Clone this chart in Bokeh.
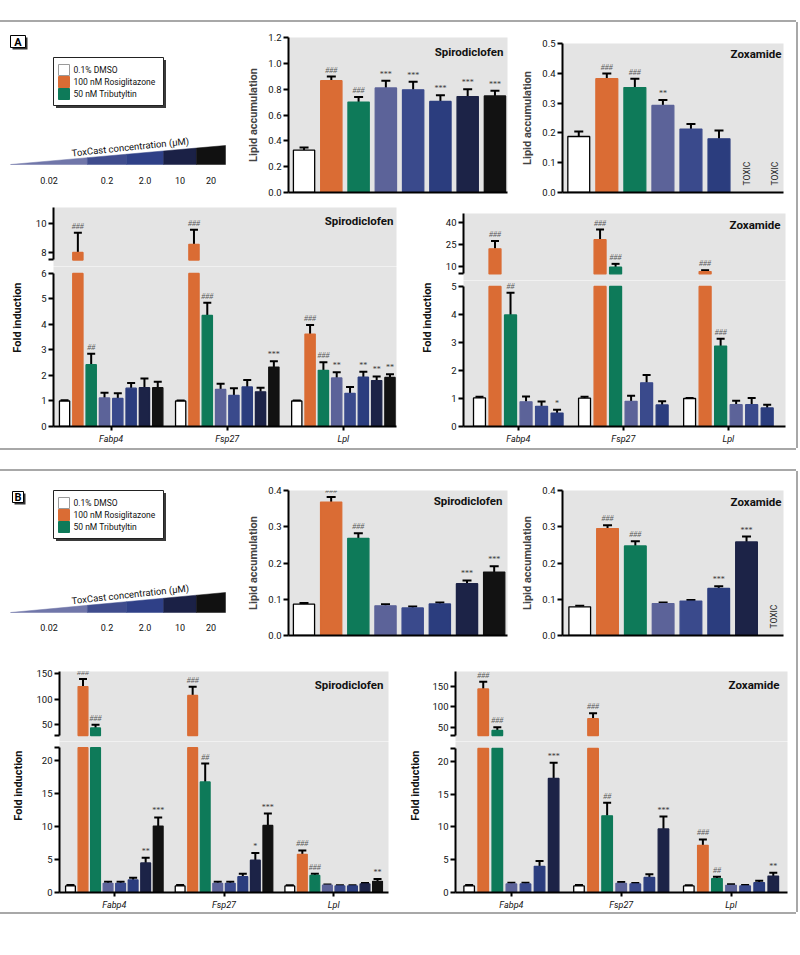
import math
from bokeh.plotting import figure
from bokeh.layouts import row, column
from bokeh.models import (Range1d, FixedTicker, NumeralTickFormatter, Whisker, TeeHead,
                          ColumnDataSource, Label, LabelSet, Spacer)
from bokeh.embed import file_html
from bokeh.resources import INLINE
from bokeh.core.properties import value

# ------------------------------------------------------------------ data
conditions = ["0.1% DMSO", "100 nM Rosiglitazone", "50 nM Tributyltin",
              "0.02 µM", "0.2 µM", "2.0 µM", "10 µM", "20 µM"]
conc_labels = ["0.02", "0.2", "2.0", "10", "20"]
genes = ["Fabp4", "Fsp27", "Lpl"]

# (A) lipid accumulation
lipA_spiro = [0.328, 0.865, 0.700, 0.810, 0.795, 0.705, 0.743, 0.748]
lipA_spiro_sem = [0.020, 0.033, 0.040, 0.055, 0.062, 0.048, 0.057, 0.039]
lipA_spiro_sig = ["", "###", "###", "***", "***", "***", "***", "***"]
lipA_zox = [0.188, 0.382, 0.352, 0.292, 0.213, 0.180, None, None]
lipA_zox_sem = [0.017, 0.017, 0.030, 0.018, 0.017, 0.028, None, None]
lipA_zox_sig = ["", "###", "###", "**", "", "", "", ""]

# (B) lipid accumulation
lipB_spiro = [0.0864, 0.368, 0.268, 0.082, 0.076, 0.087, 0.143, 0.175]
lipB_spiro_sem = [0.0036, 0.014, 0.014, 0.0044, 0.004, 0.004, 0.009, 0.016]
lipB_spiro_sig = ["", "###", "###", "", "", "", "***", "***"]
lipB_zox = [0.079, 0.295, 0.247, 0.088, 0.095, 0.130, 0.258, None]
lipB_zox_sem = [0.003, 0.009, 0.013, 0.003, 0.003, 0.006, 0.015, None]
lipB_zox_sig = ["", "###", "###", "", "", "***", "***", ""]

# (A) fold induction (rows: Fabp4, Fsp27, Lpl)
foldA_spiro = [[1.00, 8.00, 2.42, 1.12, 1.10, 1.50, 1.52, 1.52],
               [1.00, 8.56, 4.35, 1.45, 1.22, 1.55, 1.36, 2.33],
               [1.00, 3.62, 2.20, 1.90, 1.30, 1.93, 1.80, 1.92]]
foldA_spiro_sem = [[0.03, 1.35, 0.43, 0.20, 0.20, 0.20, 0.36, 0.23],
                   [0.02, 1.00, 0.50, 0.23, 0.28, 0.27, 0.16, 0.23],
                   [0.02, 0.36, 0.32, 0.23, 0.25, 0.22, 0.16, 0.13]]
foldA_spiro_sig = [["", "###", "##", "", "", "", "", ""],
                   ["", "###", "###", "", "", "", "", "***"],
                   ["", "###", "###", "**", "", "**", "**", "**"]]

foldA_zox = [[1.02, 22.0, 3.98, 0.88, 0.72, 0.48],
             [1.01, 28.2, 9.5, 0.90, 1.56, 0.77],
             [1.00, 6.6, 2.87, 0.78, 0.78, 0.66]]
foldA_zox_sem = [[0.04, 5.3, 0.79, 0.19, 0.17, 0.12],
                 [0.05, 6.8, 2.3, 0.20, 0.28, 0.13],
                 [0.02, 0.9, 0.26, 0.14, 0.24, 0.12]]
foldA_zox_sig = [["", "###", "##", "", "", "*"],
                 ["", "###", "###", "", "", ""],
                 ["", "###", "###", "", "", ""]]

# (B) fold induction
foldB_spiro = [[1.0, 125, 44, 1.4, 1.4, 1.9, 4.5, 10.1],
               [1.0, 107.5, 16.8, 1.4, 1.4, 2.4, 4.9, 10.2],
               [1.0, 5.8, 2.6, 1.1, 1.0, 1.0, 1.3, 1.7]]
foldB_spiro_sem = [[0.15, 15, 6, 0.25, 0.25, 0.35, 0.8, 1.3],
                   [0.15, 17, 2.8, 0.25, 0.25, 0.45, 1.1, 1.8],
                   [0.1, 0.6, 0.25, 0.1, 0.1, 0.1, 0.15, 0.35]]
foldB_spiro_sig = [["", "###", "###", "", "", "", "**", "***"],
                   ["", "###", "##", "", "", "", "*", "***"],
                   ["", "###", "###", "", "", "", "", "**"]]

foldB_zox = [[1.0, 144, 42, 1.3, 1.3, 4.0, 17.4],
             [1.0, 71, 11.7, 1.4, 1.3, 2.3, 9.7],
             [1.0, 7.2, 2.1, 1.1, 1.0, 1.5, 2.5]]
foldB_zox_sem = [[0.15, 18, 8, 0.2, 0.2, 0.8, 2.4],
                 [0.15, 13, 2.0, 0.2, 0.15, 0.5, 1.9],
                 [0.1, 0.9, 0.3, 0.15, 0.15, 0.3, 0.5]]
foldB_zox_sig = [["", "###", "###", "", "", "", "***"],
                 ["", "###", "##", "", "", "", "***"],
                 ["", "###", "##", "", "", "", "**"]]

# ------------------------------------------------------------------ style
FONT = "Roboto"
BG = "#E4E4E4"
BAR_FILL = ["#FFFFFF", "#DA6C34", "#0E7A59", "#5C6399", "#3A4A8C", "#2B3D7E", "#1C2347", "#121212"]
BAR_LINE = ["#000000"] + BAR_FILL[1:]
GRAD_FILL = ["#7076A9", "#3F4C8D", "#2F4087", "#1B2146", "#111111"]
GRAD_EDGES = [0, 0.358, 0.540, 0.712, 0.865, 1.0]
BOX_STYLE = {"box-shadow": "0 -2px 0 0 #a8a8a8, 2px 0 0 0 #a8a8a8, 0 2px 0 0 #a8a8a8"}


def make_fig(w, h, xr, yr, mb, xaxis=True, yaxis=True, bg=BG):
    p = figure(width=w, height=h, x_range=xr, y_range=yr, output_backend="svg",
               toolbar_location=None, tools="",
               min_border_left=mb[0], min_border_right=mb[1],
               min_border_top=mb[2], min_border_bottom=mb[3],
               background_fill_color=bg, border_fill_color="white",
               outline_line_color=None,
               x_axis_location="below" if xaxis else None,
               y_axis_location="left" if yaxis else None)
    p.xgrid.visible = False
    p.ygrid.visible = False
    return p


def style_axis(ax):
    ax.axis_line_width = 2
    ax.axis_line_color = "black"
    ax.major_tick_line_width = 2
    ax.major_tick_line_color = "black"
    ax.major_tick_out = 5
    ax.major_tick_in = 0
    ax.minor_tick_line_color = None
    ax.major_label_text_font = FONT
    ax.major_label_text_font_size = "9.5px"
    ax.major_label_text_color = "#111111"
    ax.major_label_standoff = 2


def add_title(p, text, off, xend, yend, size="11.5px"):
    p.add_layout(Label(x=xend, y=yend, x_offset=off[0], y_offset=off[1], text=text,
                       text_align="right", text_baseline="top", text_font=FONT,
                       text_font_style="bold", text_font_size=size, text_color="#111111"))


def sig_style(sigs):
    return (["italic" if s.startswith("#") else "normal" for s in sigs],
            ["#555555" if s.startswith("#") else "#333333" for s in sigs])


def add_bars(p, src, bw):
    p.vbar(x="x", top="top", bottom="bottom", width=bw, fill_color="fill",
           line_color="line", line_width=1.3, source=src)


def add_err(p, src, tee=8):
    p.add_layout(Whisker(source=src, base="x", upper="up", lower="v",
                         upper_head=TeeHead(size=tee, line_width=2, line_color="black"),
                         lower_head=None, line_width=2, line_color="black"))
    p.add_layout(LabelSet(source=src, x="x", y="up", text="sig", y_offset=2,
                          text_align="center", text_baseline="bottom", text_font=FONT,
                          text_font_size="8px", text_font_style="fstyle", text_color="tcolor"))


# ------------------------------------------------------------------ lipid charts
def lipid_chart(vals, sems, sigs, title, L):
    n = len(vals)
    idx = [i for i in range(n) if vals[i] is not None]
    fs, tc = sig_style([sigs[i] for i in idx])
    src = ColumnDataSource(dict(
        x=idx, top=[vals[i] for i in idx], v=[vals[i] for i in idx], bottom=[0] * len(idx),
        up=[vals[i] + sems[i] for i in idx],
        fill=[BAR_FILL[i] for i in idx], line=[BAR_LINE[i] for i in idx],
        sig=[sigs[i] for i in idx], fstyle=fs, tcolor=tc))
    xr = Range1d(-L["pad"][0], n - 1 + L["pad"][1])
    yr = Range1d(0, L["ymax"])
    p = make_fig(L["w"], L["h"], xr, yr, L["mb"])
    add_bars(p, src, 0.78)
    add_err(p, src, tee=9)
    tox = [i for i in range(n) if vals[i] is None]
    if tox:
        p.text(x=tox, y=[0] * len(tox), text=["TOXIC"] * len(tox), angle=math.pi / 2,
               text_align="left", text_baseline="middle", y_offset=-7,
               text_font=value(FONT), text_font_size="8.5px", text_color="#222222")
    ya = p.yaxis[0]
    style_axis(ya)
    nt = int(round(L["ymax"] / L["ystep"]))
    ya.ticker = FixedTicker(ticks=[round(k * L["ystep"], 3) for k in range(nt + 1)], minor_ticks=[])
    ya.formatter = NumeralTickFormatter(format="0.0")
    ya.axis_label = "Lipid accumulation"
    ya.axis_label_text_font = FONT
    ya.axis_label_text_font_style = "bold"
    ya.axis_label_text_font_size = "11px"
    ya.axis_label_standoff = 5
    xa = p.xaxis[0]
    style_axis(xa)
    xa.ticker = FixedTicker(ticks=[], minor_ticks=[])
    xa.major_tick_out = 0
    add_title(p, title, L["toff"], xr.end, yr.end)
    return column(p)


# ------------------------------------------------------------------ fold charts
def fold_chart(vals, sems, sigs, title, L):
    n = len(vals[0])
    gap = L["gap"]
    recs = []
    for g in range(len(genes)):
        for i in range(n):
            recs.append(dict(x=g * (n + gap) + i, v=vals[g][i], s=sems[g][i], sig=sigs[g][i], c=i))
    centers = [g * (n + gap) + (n - 1) / 2 for g in range(len(genes))]
    xr = Range1d(-L["pad"][0], recs[-1]["x"] + L["pad"][1])
    lo_cap, hi_cap = L["lo_cap"], L["hi_cap"]

    def source(rs, bottom, clip=None):
        fs, tc = sig_style([r["sig"] for r in rs])
        return ColumnDataSource(dict(
            x=[r["x"] for r in rs],
            top=[min(r["v"], clip) if clip is not None else r["v"] for r in rs],
            bottom=[bottom] * len(rs),
            v=[r["v"] for r in rs], up=[r["v"] + r["s"] for r in rs],
            fill=[BAR_FILL[r["c"]] for r in rs], line=[BAR_LINE[r["c"]] for r in rs],
            sig=[r["sig"] for r in rs], fstyle=fs, tcolor=tc))

    lo_recs = [r for r in recs if r["v"] <= lo_cap]
    hi_recs = [r for r in recs if r["v"] > lo_cap]

    # upper segment of the broken axis
    top = make_fig(L["w"], L["h_top"], xr, Range1d(L["hi"][0], L["hi"][1]),
                   (L["mbl"], L["mbr"], L["mbt"], 0), xaxis=False)
    src_hi = source(hi_recs, hi_cap)
    add_bars(top, src_hi, L["bw"])
    add_err(top, src_hi)
    ya = top.yaxis[0]
    style_axis(ya)
    ya.ticker = FixedTicker(ticks=L["hi_ticks"] + [hi_cap], minor_ticks=[])
    ya.major_label_overrides = {hi_cap: ""}
    ya.bounds = (hi_cap, L["hi"][1])
    add_title(top, title, L["toff"], xr.end, L["hi"][1])

    # lower segment
    bot = make_fig(L["w"], L["h_bot"], xr, Range1d(0, L["lo_end"]),
                   (L["mbl"], L["mbr"], 0, L["mbb"]))
    add_bars(bot, source(recs, 0, clip=lo_cap), L["bw"])
    add_err(bot, source(lo_recs, 0))
    ya = bot.yaxis[0]
    style_axis(ya)
    ticks = list(L["lo_ticks"])
    if lo_cap not in ticks:
        ticks.append(lo_cap)
        ya.major_label_overrides = {lo_cap: ""}
    ya.ticker = FixedTicker(ticks=ticks, minor_ticks=[])
    ya.bounds = (0, lo_cap)
    xa = bot.xaxis[0]
    style_axis(xa)
    xa.ticker = FixedTicker(ticks=centers, minor_ticks=[])
    xa.major_label_overrides = {c: g for c, g in zip(centers, genes)}
    xa.major_label_text_font_style = "italic"
    xa.major_label_text_font_size = "9px"
    xa.major_tick_out = 4
    xa.major_label_standoff = 3
    return column(top, bot)


def ylabel_fig(w, h, fx, fy, text="Fold induction"):
    p = make_fig(w, h, Range1d(0, 1), Range1d(0, 1), (0, 0, 0, 0), xaxis=False, yaxis=False, bg="white")
    p.add_layout(Label(x=fx, y=fy, text=text, angle=math.pi / 2, text_align="center",
                       text_baseline="middle", text_font=FONT, text_font_style="bold",
                       text_font_size="11px", text_color="#111111"))
    return column(p)


# ------------------------------------------------------------------ legend / gradient figure
def left_fig(tag, G):
    W, H = 244, G["h"]
    p = make_fig(W, H, Range1d(0, W), Range1d(H, 0), (0, 0, 0, 0), xaxis=False, yaxis=False, bg="white")
    tx, ty, tw, th = G["tag"]
    p.quad(left=[tx + 2], right=[tx + tw + 2], top=[ty + 2], bottom=[ty + th + 2],
           fill_color="#333333", line_color=None)
    p.quad(left=[tx], right=[tx + tw], top=[ty], bottom=[ty + th],
           fill_color="white", line_color="black", line_width=1)
    p.text(x=[tx + tw / 2], y=[ty + th / 2 + 0.5], text=[tag], text_align="center",
           text_baseline="middle", text_font=value(FONT), text_font_style="bold",
           text_font_size="11px", text_color="black")

    # legend box (drawn by hand: shadow, frame, swatches, labels)
    lx, ly, lw, lh = G["legend"]
    p.quad(left=[lx + 2.5], right=[lx + lw + 2.5], top=[ly + 2.5], bottom=[ly + lh + 2.5],
           fill_color="#3a3a3a", line_color=None)
    p.quad(left=[lx], right=[lx + lw], top=[ly], bottom=[ly + lh],
           fill_color="white", line_color="#222222", line_width=1)
    cy = [ly + 12.5 + 12 * i for i in range(3)]
    p.quad(left=[lx + 5] * 3, right=[lx + 16] * 3, top=[c - 5.5 for c in cy], bottom=[c + 5.5 for c in cy],
           fill_color=BAR_FILL[:3], line_color=["#9a9a9a", BAR_FILL[1], BAR_FILL[2]], line_width=1)
    p.text(x=[lx + 20] * 3, y=cy, text=conditions[:3], text_align="left", text_baseline="middle",
           text_font=value(FONT), text_font_size="8.5px", text_color="#111111")

    # concentration wedge
    gx0, gx1, gb, gt = G["grad"]
    edges = [gx0 + f * (gx1 - gx0) for f in GRAD_EDGES]

    def ytop(x):
        return gb - (x - gx0) / (gx1 - gx0) * (gb - gt)

    xs = [[edges[k], edges[k + 1], edges[k + 1], edges[k]] for k in range(5)]
    ys = [[gb, gb, ytop(edges[k + 1]), ytop(edges[k])] for k in range(5)]
    p.patches(xs=xs, ys=ys, fill_color=GRAD_FILL, line_color=GRAD_FILL, line_width=0.5)
    p.text(x=[(edges[k] + edges[k + 1]) / 2 for k in range(5)], y=[gb + G["lab_dy"]] * 5,
           text=conc_labels, text_align="center", text_baseline="middle",
           text_font=value(FONT), text_font_size="9px", text_color="#111111")
    cx = gx0 + 0.56 * (gx1 - gx0)
    ang = math.atan((gb - gt) / (gx1 - gx0)) + 0.015
    p.add_layout(Label(x=cx, y=ytop(cx) - 1.5, text="ToxCast concentration (µM)", angle=ang,
                       text_align="center", text_baseline="bottom", text_font=FONT,
                       text_font_size="9.5px", text_color="#111111"))
    return column(p)


# ------------------------------------------------------------------ layout constants
LIP_A_SPIRO = dict(w=274, h=178, mb=(38, 11, 15, 8), pad=(0.57, 0.46), ymax=1.2, ystep=0.2, toff=(-4, -7))
LIP_A_ZOX = dict(w=278, h=178, mb=(44, 13, 21, 8), pad=(0.58, 0.30), ymax=0.5, ystep=0.1, toff=(-2, -3))
LIP_B_SPIRO = dict(w=274, h=182, mb=(38, 11, 19, 18), pad=(0.57, 0.49), ymax=0.4, ystep=0.1, toff=(-5, -3))
LIP_B_ZOX = dict(w=278, h=182, mb=(44, 13, 19, 18), pad=(0.62, 0.33), ymax=0.4, ystep=0.1, toff=(-2, -4))

FOLD_A_SPIRO = dict(w=392, mbl=27, mbr=22, h_top=66, mbt=7, h_bot=182, mbb=22,
                    gap=0.72, pad=(0.83, 0.49), bw=0.77,
                    hi=(7.03, 11.1), hi_cap=7.48, hi_ticks=[8, 10],
                    lo_end=6.27, lo_cap=6, lo_ticks=[0, 1, 2, 3, 4, 5, 6], toff=(-3, -6))
FOLD_A_ZOX = dict(w=360, mbl=27, mbr=11, h_top=80, mbt=13, h_bot=168, mbb=22,
                  gap=0.77, pad=(1.03, 1.18), bw=0.77,
                  hi=(0.53, 45.9), hi_cap=5.0, hi_ticks=[10, 25, 40],
                  lo_end=5.21, lo_cap=5, lo_ticks=[0, 1, 2, 3, 4, 5], toff=(-5, -4))
FOLD_B_SPIRO = dict(w=378, mbl=31, mbr=18, h_top=88, mbt=18, h_bot=171, mbb=20,
                    gap=0.75, pad=(0.875, 0.875), bw=0.78,
                    hi=(17.3, 154.5), hi_cap=29, hi_ticks=[50, 100, 150],
                    lo_end=22.95, lo_cap=22, lo_ticks=[0, 5, 10, 15, 20], toff=(-5, -6))
FOLD_B_ZOX = dict(w=372, mbl=31, mbr=9, h_top=88, mbt=18, h_bot=171, mbb=20,
                  gap=0.8, pad=(0.97, 1.01), bw=0.75,
                  hi=(14.8, 186.9), hi_cap=29.6, hi_ticks=[50, 100, 150],
                  lo_end=23.05, lo_cap=22, lo_ticks=[0, 5, 10, 15, 20], toff=(-8, -6))

GA = dict(h=178, tag=(10, 13, 15, 12), legend=(53, 35, 110, 48), grad=(10, 225, 142, 123), lab_dy=16)
GB = dict(h=182, tag=(12, 20, 11, 11), legend=(53, 19, 110, 48), grad=(10, 225, 141, 121), lab_dy=15)

# ------------------------------------------------------------------ assemble
rowA1 = row(left_fig("A", GA),
            lipid_chart(lipA_spiro, lipA_spiro_sem, lipA_spiro_sig, "Spirodiclofen", LIP_A_SPIRO),
            lipid_chart(lipA_zox, lipA_zox_sem, lipA_zox_sig, "Zoxamide", LIP_A_ZOX))
rowA2 = row(ylabel_fig(26, 248, 0.654, 0.528),
            fold_chart(foldA_spiro, foldA_spiro_sem, foldA_spiro_sig, "Spirodiclofen", FOLD_A_SPIRO),
            ylabel_fig(18, 248, 0.5, 0.528),
            fold_chart(foldA_zox, foldA_zox_sem, foldA_zox_sig, "Zoxamide", FOLD_A_ZOX))
panelA = column(rowA1, rowA2, styles=BOX_STYLE)

rowB1 = row(left_fig("B", GB),
            lipid_chart(lipB_spiro, lipB_spiro_sem, lipB_spiro_sig, "Spirodiclofen", LIP_B_SPIRO),
            lipid_chart(lipB_zox, lipB_zox_sem, lipB_zox_sig, "Zoxamide", LIP_B_ZOX))
rowB2 = row(ylabel_fig(28, 259, 0.643, 0.49),
            fold_chart(foldB_spiro, foldB_spiro_sem, foldB_spiro_sig, "Spirodiclofen", FOLD_B_SPIRO),
            ylabel_fig(18, 259, 0.5, 0.49),
            fold_chart(foldB_zox, foldB_zox_sem, foldB_zox_sig, "Zoxamide", FOLD_B_ZOX))
panelB = column(rowB1, rowB2, styles=BOX_STYLE)

page = column(Spacer(width=796, height=22), panelA, Spacer(width=796, height=23), panelB)

open("out.html", "w").write(file_html(page, INLINE, "Lipid accumulation and fold induction"))
